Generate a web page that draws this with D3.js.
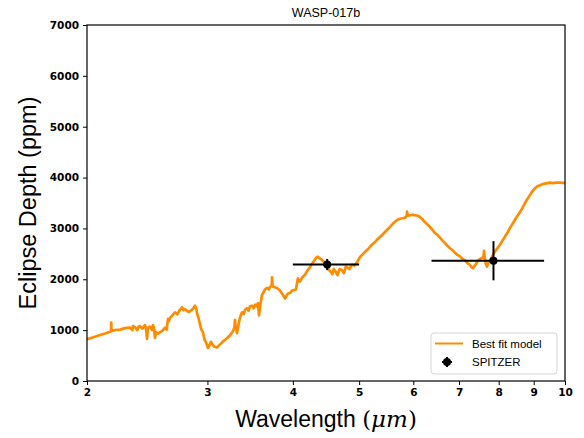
<!DOCTYPE html>
<html>
<head>
<meta charset="utf-8">
<script src="https://cdn.jsdelivr.net/npm/d3@7"></script>
<style>
  html, body { margin: 0; padding: 0; background: #fff; }
  svg { display: block; }
  text { font-family: "Liberation Sans", Arial, sans-serif; }
</style>
</head>
<body>
<script>
// Best fit emission model: wavelength (µm) and eclipse depth (ppm)
const modelWavelength = [
  2.000, 2.055, 2.089, 2.125, 2.168, 2.170, 2.172, 2.198, 2.235, 2.273,
  2.312, 2.330, 2.335, 2.351, 2.370, 2.380, 2.391, 2.410, 2.431, 2.440,
  2.448, 2.455, 2.473, 2.490, 2.498, 2.505, 2.515, 2.525, 2.540, 2.557,
  2.580, 2.601, 2.615, 2.627, 2.635, 2.645, 2.670, 2.690, 2.710, 2.735,
  2.754, 2.770, 2.782, 2.810, 2.829, 2.858, 2.877, 2.890, 2.897, 2.916,
  2.936, 2.956, 2.970, 2.986, 3.006, 3.020, 3.036, 3.050, 3.067, 3.098,
  3.130, 3.162, 3.205, 3.237, 3.270, 3.285, 3.292, 3.300, 3.314, 3.330,
  3.348, 3.370, 3.390, 3.405, 3.428, 3.445, 3.462, 3.486, 3.505, 3.521,
  3.540, 3.557, 3.569, 3.585, 3.605, 3.630, 3.642, 3.667, 3.690, 3.704,
  3.725, 3.729, 3.735, 3.754, 3.792, 3.830, 3.869, 3.895, 3.915, 3.935,
  3.961, 3.990, 4.042, 4.060, 4.069, 4.080, 4.098, 4.130, 4.167, 4.200,
  4.238, 4.275, 4.310, 4.340, 4.353, 4.380, 4.412, 4.450, 4.487, 4.520,
  4.548, 4.570, 4.590, 4.625, 4.650, 4.680, 4.720, 4.750, 4.780, 4.800,
  4.840, 4.881, 4.920, 4.964, 5.015, 5.060, 5.100, 5.150, 5.186, 5.230,
  5.274, 5.320, 5.364, 5.410, 5.455, 5.500, 5.548, 5.600, 5.642, 5.690,
  5.738, 5.790, 5.835, 5.870, 5.875, 5.890, 5.934, 5.980, 6.035, 6.090,
  6.137, 6.190, 6.242, 6.290, 6.347, 6.400, 6.456, 6.510, 6.565, 6.620,
  6.676, 6.730, 6.790, 6.850, 6.905, 6.960, 7.022, 7.080, 7.142, 7.200,
  7.263, 7.300, 7.337, 7.400, 7.461, 7.510, 7.562, 7.600, 7.613, 7.630,
  7.660, 7.690, 7.730, 7.768, 7.820, 7.874, 7.954, 8.035, 8.100, 8.171,
  8.240, 8.310, 8.380, 8.451, 8.520, 8.594, 8.670, 8.740, 8.810, 8.889,
  8.960, 9.039, 9.110, 9.193, 9.270, 9.349, 9.430, 9.508, 9.600, 9.702,
  9.850, 10.000
];
const modelDepth = [
  820, 870, 905, 935, 975, 1150, 985, 1000, 1010, 1040,
  1050, 1000, 1080, 1060, 1000, 1070, 1080, 1030, 1100, 1020,
  830, 1050, 1070, 1000, 1100, 1050, 850, 960, 930, 960,
  990, 1050, 1010, 1220, 1180, 1240, 1300, 1350, 1310, 1400,
  1450, 1390, 1410, 1360, 1370, 1420, 1480, 1420, 1330, 1200,
  1030, 950, 820, 760, 650, 700, 770, 720, 680, 660,
  720, 780, 840, 900, 980, 1050, 1200, 1050, 940, 1100,
  1250, 1350, 1320, 1400, 1430, 1380, 1470, 1480, 1430, 1500,
  1470, 1530, 1290, 1500, 1690, 1760, 1800, 1830, 1800, 1850,
  1870, 2040, 1860, 1850, 1830, 1780, 1690, 1620, 1680, 1720,
  1730, 1780, 1800, 1950, 2020, 1960, 1960, 2040, 2090, 2170,
  2240, 2320, 2390, 2440, 2440, 2410, 2380, 2330, 2280, 2180,
  2140, 2100, 2200, 2140, 2080, 2200, 2180, 2120, 2250, 2240,
  2200, 2290, 2270, 2330, 2440, 2490, 2540, 2590, 2640, 2690,
  2730, 2790, 2830, 2880, 2930, 2980, 3030, 3090, 3130, 3170,
  3190, 3200, 3210, 3250, 3330, 3250, 3260, 3270, 3260, 3250,
  3220, 3180, 3120, 3080, 3030, 2970, 2910, 2870, 2820, 2760,
  2710, 2660, 2610, 2570, 2520, 2480, 2450, 2400, 2370, 2320,
  2280, 2240, 2220, 2290, 2370, 2400, 2420, 2440, 2560, 2420,
  2300, 2250, 2330, 2370, 2440, 2520, 2600, 2680, 2760, 2840,
  2920, 3010, 3090, 3170, 3250, 3320, 3410, 3500, 3580, 3660,
  3730, 3790, 3830, 3850, 3870, 3880, 3890, 3900, 3890, 3900,
  3900, 3890
];

// Spitzer photometric eclipse depths (channel centres, bandpass limits, 1-sigma errors)
const spitzerWavelength = [4.49, 7.86];
const spitzerWlLow = [4.00, 6.38];
const spitzerWlHigh = [5.00, 9.32];
const spitzerDepth = [2290, 2365];
const spitzerDepthErr = [110, 385];

const xTickValues = [2, 3, 4, 5, 6, 7, 8, 9, 10];
const yTickValues = [0, 1000, 2000, 3000, 4000, 5000, 6000, 7000];

const W = 584, H = 438;
const margin = { top: 25, right: 19, bottom: 57, left: 87 };
const orange = "#ff8c00";

const svg = d3.select("body").append("svg")
  .attr("width", W).attr("height", H);

const x = d3.scaleLog().domain([2, 10]).range([margin.left, W - margin.right]);
const y = d3.scaleLinear().domain([0, 7000]).range([H - margin.bottom, margin.top]);

// Model spectrum
const model = modelWavelength.map((w, i) => ({ w, d: modelDepth[i] }));
svg.append("path")
  .datum(model)
  .attr("fill", "none")
  .attr("stroke", orange)
  .attr("stroke-width", 2.7)
  .attr("stroke-linejoin", "round")
  .attr("d", d3.line().x(d => x(d.w)).y(d => y(d.d)));

// Spitzer points with error bars
const pts = spitzerWavelength.map((w, i) => ({
  w, lo: spitzerWlLow[i], hi: spitzerWlHigh[i], d: spitzerDepth[i], e: spitzerDepthErr[i]
}));
const pg = svg.append("g");
pg.selectAll("line.xerr").data(pts).join("line")
  .attr("x1", d => x(d.lo)).attr("x2", d => x(d.hi))
  .attr("y1", d => y(d.d)).attr("y2", d => y(d.d))
  .attr("stroke", "#000").attr("stroke-width", 2);
pg.selectAll("line.yerr").data(pts).join("line")
  .attr("x1", d => x(d.w)).attr("x2", d => x(d.w))
  .attr("y1", d => y(d.d - d.e)).attr("y2", d => y(d.d + d.e))
  .attr("stroke", "#000").attr("stroke-width", 2);
pg.selectAll("circle").data(pts).join("circle")
  .attr("cx", d => x(d.w)).attr("cy", d => y(d.d)).attr("r", 4)
  .attr("fill", "#000");

// Axes
const xAxis = d3.axisBottom(x).tickValues(xTickValues).tickFormat(d3.format("d"))
  .tickSizeInner(4).tickSizeOuter(0).tickPadding(4);
const yAxis = d3.axisLeft(y).tickValues(yTickValues).tickFormat(d3.format("d"))
  .tickSizeInner(4).tickSizeOuter(0).tickPadding(4);

const gx = svg.append("g").attr("transform", `translate(0,${H - margin.bottom})`).call(xAxis);
const gy = svg.append("g").attr("transform", `translate(${margin.left},0)`).call(yAxis);
[gx, gy].forEach(g => {
  g.select(".domain").remove();
  g.selectAll(".tick line").attr("stroke", "#000").attr("stroke-width", 1);
  g.selectAll(".tick text")
    .attr("fill", "#000")
    .style("font-family", "'DejaVu Sans', sans-serif")
    .style("font-weight", "bold")
    .style("font-size", "10.5px");
});

// Plot frame
svg.append("rect")
  .attr("x", margin.left).attr("y", margin.top)
  .attr("width", W - margin.left - margin.right)
  .attr("height", H - margin.top - margin.bottom)
  .attr("fill", "none").attr("stroke", "#000").attr("stroke-width", 1.2);

// Title
svg.append("text")
  .attr("x", (margin.left + W - margin.right) / 2).attr("y", 17)
  .attr("text-anchor", "middle")
  .style("font-size", "12.5px")
  .text("WASP-017b");

// Axis titles
const xl = svg.append("text")
  .attr("x", (margin.left + W - margin.right) / 2).attr("y", 427)
  .attr("text-anchor", "middle")
  .style("font-size", "23px");
xl.append("tspan").text("Wavelength ");
xl.append("tspan").style("font-family", "'DejaVu Serif', serif").text("(");
xl.append("tspan").style("font-family", "'DejaVu Serif', serif").style("font-style", "italic").text("μm");
xl.append("tspan").style("font-family", "'DejaVu Serif', serif").text(")");

svg.append("text")
  .attr("transform", `translate(36,${(margin.top + H - margin.bottom) / 2}) rotate(-90)`)
  .attr("text-anchor", "middle")
  .style("font-size", "23.5px")
  .text("Eclipse Depth (ppm)");

// Legend
const lg = svg.append("g");
lg.append("rect")
  .attr("x", 431).attr("y", 333).attr("width", 126).attr("height", 41)
  .attr("rx", 3).attr("fill", "#fff").attr("fill-opacity", 0.8)
  .attr("stroke", "#d5d5d5").attr("stroke-width", 1);
lg.append("line")
  .attr("x1", 435).attr("x2", 463).attr("y1", 343.5).attr("y2", 343.5)
  .attr("stroke", orange).attr("stroke-width", 2);
lg.append("text").attr("x", 472).attr("y", 347.5)
  .style("font-size", "11.5px").text("Best fit model");
lg.append("line")
  .attr("x1", 442).attr("x2", 452).attr("y1", 362).attr("y2", 362)
  .attr("stroke", "#000").attr("stroke-width", 2);
lg.append("line")
  .attr("x1", 447).attr("x2", 447).attr("y1", 357).attr("y2", 367)
  .attr("stroke", "#000").attr("stroke-width", 2);
lg.append("circle").attr("cx", 447).attr("cy", 362).attr("r", 4).attr("fill", "#000");
lg.append("text").attr("x", 472).attr("y", 366)
  .style("font-size", "11.5px").text("SPITZER");
</script>
</body>
</html>
